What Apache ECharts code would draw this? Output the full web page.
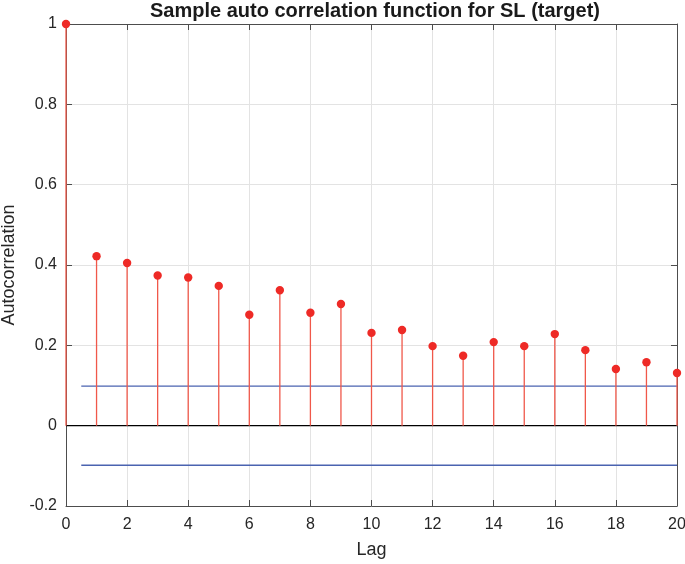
<!DOCTYPE html>
<html><head><meta charset="utf-8">
<script src="https://cdn.jsdelivr.net/npm/echarts@6/dist/echarts.min.js"></script>
<style>html,body{margin:0;padding:0;background:#fff}#c{width:685px;height:564px}</style>
</head><body><div id="c"></div>
<script>
const lags = [0,1,2,3,4,5,6,7,8,9,10,11,12,13,14,15,16,17,18,19,20];
const acf = [1,0.422,0.405,0.374,0.369,0.348,0.276,0.337,0.281,0.303,0.231,0.238,0.198,0.174,0.208,0.198,0.228,0.188,0.141,0.158,0.131];
const upperBound = 0.0985;
const lowerBound = -0.0985;
const boundStart = 0.5, boundEnd = 20;

const chart = echarts.init(document.getElementById('c'));
const font = 'Liberation Sans, Arial, Helvetica, sans-serif';
const axisCol = '#4d4d4d';
const stemData = lags.map((l,i)=>[l, acf[i]]);
chart.setOption({
  animation:false,
  title:{text:'Sample auto correlation function for SL (target)', left:370, top:-4, textAlign:'center',
    textStyle:{fontFamily:font, fontSize:20, fontWeight:'bold', color:'#1a1a1a'}},
  grid:{left:66, right:8, top:24, bottom:58, show:false, outerBoundsMode:'none', containLabel:false},
  xAxis:[{type:'value', min:0, max:20, interval:2, position:'bottom',
    name:'Lag', nameLocation:'middle', nameGap:35, nameTextStyle:{fontFamily:font, fontSize:18, color:'#262626'},
    axisLine:{show:true, onZero:false, lineStyle:{color:axisCol, width:1}},
    axisTick:{show:true, inside:true, length:6, lineStyle:{color:axisCol}},
    axisLabel:{fontFamily:font, fontSize:16, color:'#262626', margin:11},
    splitLine:{show:true, lineStyle:{color:'#e3e3e3', width:1}}},
   {type:'value', min:0, max:20, interval:2, position:'top',
    axisLine:{show:true, onZero:false, lineStyle:{color:axisCol}},
    axisTick:{show:true, inside:true, length:6, lineStyle:{color:axisCol}},
    axisLabel:{show:false}, splitLine:{show:false}}],
  yAxis:[{type:'value', min:-0.2, max:1, interval:0.2, position:'left',
    name:'Autocorrelation', nameLocation:'middle', nameGap:44, nameRotate:90,
    nameTextStyle:{fontFamily:font, fontSize:18, color:'#262626'},
    axisLine:{show:true, onZero:false, lineStyle:{color:axisCol}},
    axisTick:{show:true, inside:true, length:6, lineStyle:{color:axisCol}},
    axisLabel:{fontFamily:font, fontSize:16, color:'#262626', margin:9,
      formatter:v=>String(Math.round(v*10)/10)},
    splitLine:{show:true, lineStyle:{color:'#e3e3e3', width:1}}},
   {type:'value', min:-0.2, max:1, interval:0.2, position:'right',
    axisLine:{show:true, onZero:false, lineStyle:{color:axisCol}},
    axisTick:{show:true, inside:true, length:6, lineStyle:{color:axisCol}},
    axisLabel:{show:false}, splitLine:{show:false}}],
  series:[
    {type:'line', data:[[0,0],[20,0]], symbol:'none', lineStyle:{color:'#000', width:1.2}, z:3},
    {type:'line', data:[[boundStart,upperBound],[boundEnd,upperBound]], symbol:'none', lineStyle:{color:'#4a63b0', width:1.3}, z:3},
    {type:'line', data:[[boundStart,lowerBound],[boundEnd,lowerBound]], symbol:'none', lineStyle:{color:'#4a63b0', width:1.3}, z:3},
    {type:'custom', data:stemData, z:4,
     renderItem:(params, api)=>{
       const p0 = api.coord([api.value(0), 0]);
       const p1 = api.coord([api.value(0), api.value(1)]);
       return {type:'group', children:[
         {type:'line', shape:{x1:p0[0], y1:p0[1], x2:p1[0], y2:p1[1]}, style:{stroke:'#f0584a', lineWidth:1.3}},
         {type:'circle', shape:{cx:p1[0], cy:p1[1], r:4.2}, style:{fill:'#ee2a26'}}
       ]};
     }}
  ]
});
</script></body></html>
